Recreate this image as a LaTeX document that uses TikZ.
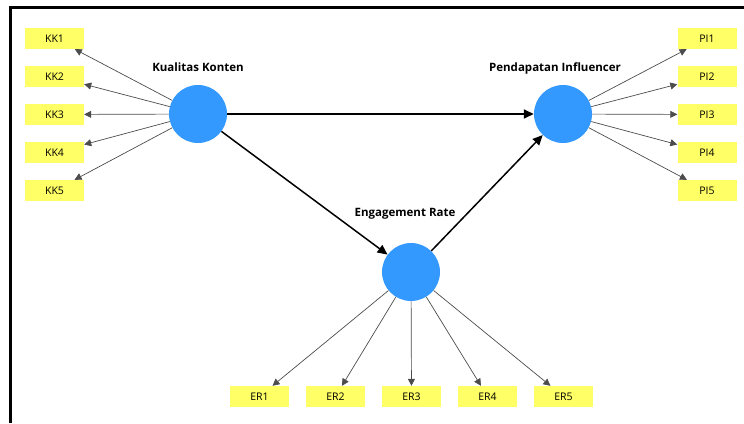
\documentclass[tikz,border=0pt]{standalone}
\usepackage{fontspec}
\setmainfont{Open Sans}
\usetikzlibrary{arrows.meta}
\definecolor{latentblue}{RGB}{51,153,255}
\definecolor{itemyellow}{RGB}{255,255,102}
\tikzset{
  latent/.style={circle, fill=latentblue, minimum size=58pt, inner sep=0pt},
  item/.style={fill=itemyellow, minimum width=59pt, minimum height=21pt, inner sep=0pt, font=\fontsize{10.5}{12}\selectfont},
  loading/.style={draw=black!70, line width=0.7pt, -{Triangle[width=7pt,length=7pt]}},
  structural/.style={line width=1.5pt, -{Triangle[width=9pt,length=10pt]}},
  lvname/.style={font=\bfseries\fontsize{11.5}{13}\selectfont}
}

\begin{document}
\begin{tikzpicture}[x=1pt, y=-1pt]
\useasboundingbox (0,0) rectangle (744,423);
\draw[line width=3pt] (10,423) -- (10,7) -- (744,7);

\node[latent] (KK) at (198,114) {};
\node[latent] (PI) at (563,114) {};
\node[latent] (ER) at (411,272) {};
\node[lvname] (KKname) at (198,67) {Kualitas Konten};
\node[lvname] (PIname) at (555,68) {Pendapatan Influencer};
\node[lvname] (ERname) at (405,214) {Engagement Rate};

\foreach \i in {1,...,5}{
	\node[item] (KK\i) at (54.5, {38.5+38*(\i-1)}) {KK\i};
	\node[item] (PI\i) at (707, {38.5+38*(\i-1)}) {PI\i};
	\node[item] (ER\i) at ({259.5+76*(\i-1)}, 396.5) {ER\i};
	\draw[loading] (KK) -- (KK\i);
	\draw[loading] (PI) -- (PI\i);
	\draw[loading] (ER) -- (ER\i);}

\draw[structural] (KK) -- (PI);
\draw[structural] (KK) -- (ER);
\draw[structural] (ER) -- (PI);
\end{tikzpicture}
\end{document}
